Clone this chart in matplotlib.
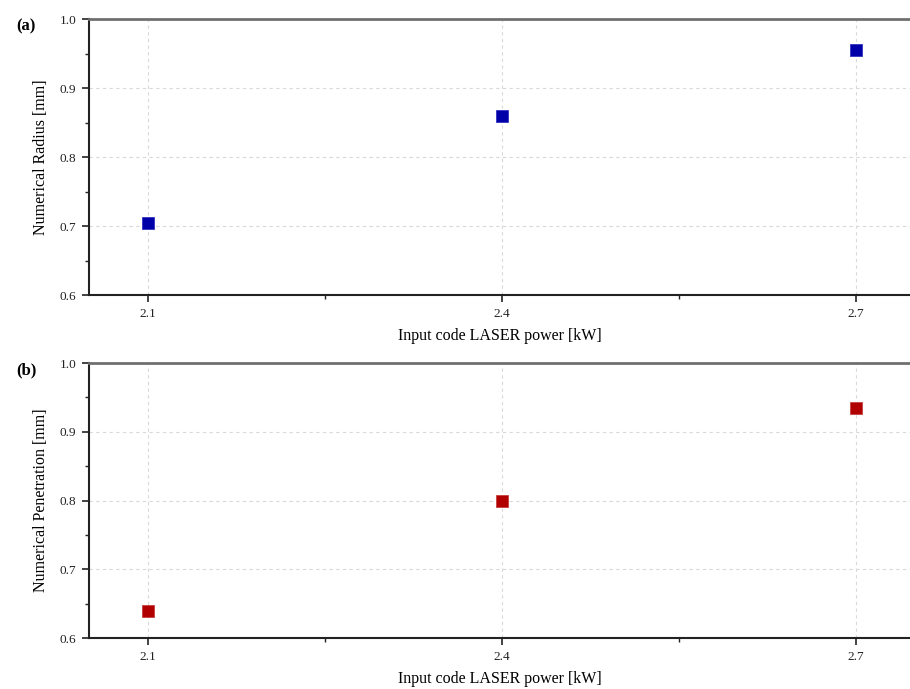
import matplotlib
matplotlib.use("Agg")
import matplotlib.pyplot as plt
from matplotlib.ticker import MultipleLocator

# Data
power_kw = [2.1, 2.4, 2.7]
radius_mm = [0.705, 0.86, 0.955]
penetration_mm = [0.64, 0.80, 0.935]

plt.rcParams.update({
    "font.family": "serif",
    "font.serif": ["Liberation Serif", "DejaVu Serif"],
    "font.size": 10,
})

fig = plt.figure(figsize=(9.10, 6.89), dpi=100)
ax_a = fig.add_axes([0.0978, 0.5718, 0.9022, 0.4006])
ax_b = fig.add_axes([0.0978, 0.0740, 0.9022, 0.3991])


def style_axes(ax, ylabel):
    ax.set_xlim(2.05, 2.746)
    ax.set_ylim(0.6, 1.0)
    ax.set_xticks(power_kw)
    ax.xaxis.set_minor_locator(MultipleLocator(0.15))
    ax.yaxis.set_major_locator(MultipleLocator(0.1))
    ax.yaxis.set_minor_locator(MultipleLocator(0.05))
    ax.tick_params(which="major", direction="out", length=5, width=1.2,
                   labelsize=9.5, colors="#222222", pad=4)
    ax.tick_params(which="minor", direction="out", length=3, width=1.0,
                   colors="#222222")
    ax.grid(True, which="major", linestyle=(0, (3, 3)), color="#d9d9d9", linewidth=0.8)
    ax.set_axisbelow(True)
    ax.spines["right"].set_visible(False)
    ax.spines["top"].set_color("#707070")
    ax.spines["top"].set_linewidth(2.0)
    ax.spines["left"].set_linewidth(1.5)
    ax.spines["bottom"].set_linewidth(1.5)
    ax.spines["left"].set_color("#222222")
    ax.spines["bottom"].set_color("#222222")
    ax.set_xlabel("Input code LASER power [kW]", fontsize=11.5, labelpad=6)
    ax.set_ylabel(ylabel, fontsize=11.5, labelpad=8)
    ax.yaxis.set_major_formatter(matplotlib.ticker.FormatStrFormatter("%.1f"))


ax_a.plot(power_kw, radius_mm, linestyle="none", marker="s", markersize=8,
          color="#0000a8", markeredgecolor="#3333c0", markeredgewidth=0.6, clip_on=False)
style_axes(ax_a, "Numerical Radius [mm]")

ax_b.plot(power_kw, penetration_mm, linestyle="none", marker="s", markersize=8,
          color="#b00000", markeredgecolor="#c84040", markeredgewidth=0.6, clip_on=False)
style_axes(ax_b, "Numerical Penetration [mm]")

fig.text(0.018, 0.962, "(a)", fontsize=12, fontweight="bold", va="center")
fig.text(0.018, 0.463, "(b)", fontsize=12, fontweight="bold", va="center")

fig.savefig("out.png", dpi=100, facecolor="white")
